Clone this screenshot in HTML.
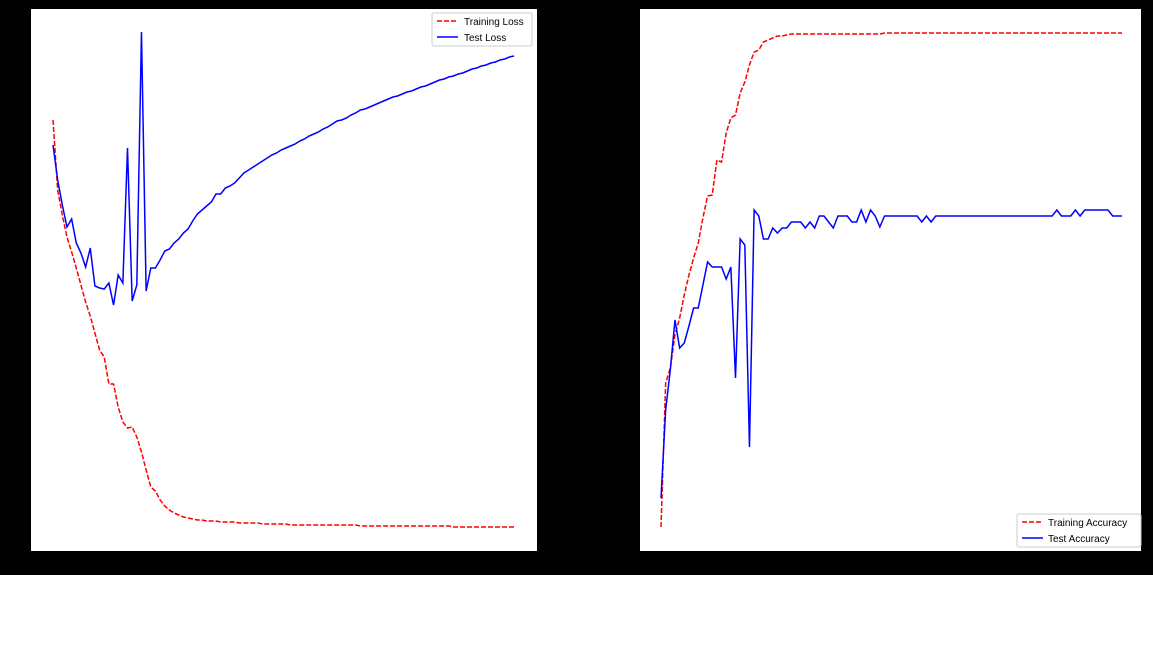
<!DOCTYPE html>
<html><head><meta charset="utf-8"><style>
html,body{margin:0;padding:0;background:#fff;}
svg{display:block;font-family:"Liberation Sans",sans-serif;}
</style></head><body>
<svg id="fig" width="1153" height="648">
<rect x="0" y="0" width="1153" height="575" fill="#000"/>
<rect x="31" y="9" width="506" height="542" fill="#fff"/>
<rect x="640" y="9" width="501" height="542" fill="#fff"/>
<g id="left"></g>
<g id="right"></g>
<g>
<rect x="432" y="13" width="100" height="33" fill="#fff" stroke="#ccc" rx="2"/>
<line x1="437" y1="21" x2="458" y2="21" stroke="red" stroke-width="1.5" stroke-dasharray="5,2"/>
<text x="464" y="25" font-size="10">Training Loss</text>
<line x1="437" y1="37" x2="458" y2="37" stroke="blue" stroke-width="1.5"/>
<text x="464" y="41" font-size="10">Test Loss</text>
</g>
<g>
<rect x="1017" y="514" width="124" height="33" fill="#fff" stroke="#ccc" rx="2"/>
<line x1="1022" y1="522" x2="1043" y2="522" stroke="red" stroke-width="1.5" stroke-dasharray="5,2"/>
<text x="1048" y="526" font-size="10">Training Accuracy</text>
<line x1="1022" y1="538" x2="1043" y2="538" stroke="blue" stroke-width="1.5"/>
<text x="1048" y="542" font-size="10">Test Accuracy</text>
</g>
</svg>
<script>
const epochs = Array.from({length:100},(_,i)=>i+1);
const testLoss = [4.06,3.71,3.46,3.24,3.32,3.08,2.98,2.84,3.03,2.65,2.63,2.62,2.68,2.46,2.76,2.68,4.03,2.50,2.66,5.19,2.60,2.83,2.83,2.91,3.00,3.02,3.08,3.12,3.18,3.22,3.30,3.37,3.41,3.45,3.49,3.57,3.57,3.63,3.65,3.68,3.73,3.78,3.81,3.84,3.87,3.90,3.93,3.96,3.98,4.01,4.03,4.05,4.07,4.10,4.12,4.15,4.17,4.19,4.22,4.24,4.27,4.30,4.31,4.33,4.36,4.38,4.41,4.42,4.44,4.46,4.48,4.50,4.52,4.54,4.55,4.57,4.59,4.60,4.62,4.64,4.65,4.67,4.69,4.71,4.72,4.74,4.75,4.77,4.78,4.80,4.82,4.83,4.85,4.86,4.88,4.89,4.91,4.92,4.94,4.95];
const trainLoss = [4.31,3.61,3.36,3.14,2.99,2.83,2.66,2.49,2.35,2.18,2.01,1.94,1.67,1.67,1.44,1.29,1.23,1.24,1.14,0.99,0.81,0.64,0.60,0.51,0.45,0.41,0.38,0.36,0.34,0.33,0.32,0.31,0.31,0.30,0.30,0.30,0.29,0.29,0.29,0.29,0.28,0.28,0.28,0.28,0.28,0.27,0.27,0.27,0.27,0.27,0.27,0.26,0.26,0.26,0.26,0.26,0.26,0.26,0.26,0.26,0.26,0.26,0.26,0.26,0.26,0.26,0.25,0.25,0.25,0.25,0.25,0.25,0.25,0.25,0.25,0.25,0.25,0.25,0.25,0.25,0.25,0.25,0.25,0.25,0.25,0.25,0.24,0.24,0.24,0.24,0.24,0.24,0.24,0.24,0.24,0.24,0.24,0.24,0.24,0.24];
const testAcc = [0.53,1.41,1.81,2.31,2.03,2.08,2.25,2.43,2.43,2.66,2.89,2.84,2.84,2.84,2.72,2.84,1.73,3.12,3.06,1.04,3.41,3.35,3.12,3.12,3.23,3.18,3.23,3.23,3.29,3.29,3.29,3.23,3.29,3.23,3.35,3.35,3.29,3.23,3.35,3.35,3.35,3.29,3.29,3.41,3.29,3.41,3.35,3.24,3.35,3.35,3.35,3.35,3.35,3.35,3.35,3.35,3.29,3.35,3.29,3.35,3.35,3.35,3.35,3.35,3.35,3.35,3.35,3.35,3.35,3.35,3.35,3.35,3.35,3.35,3.35,3.35,3.35,3.35,3.35,3.35,3.35,3.35,3.35,3.35,3.35,3.41,3.35,3.35,3.35,3.41,3.35,3.41,3.41,3.41,3.41,3.41,3.41,3.35,3.35,3.35];
const trainAcc = [0.24,1.68,1.83,2.16,2.33,2.56,2.76,2.93,3.08,3.33,3.55,3.56,3.91,3.89,4.18,4.33,4.36,4.58,4.69,4.86,4.99,5.01,5.09,5.11,5.13,5.15,5.15,5.16,5.17,5.17,5.17,5.17,5.17,5.17,5.17,5.17,5.17,5.17,5.17,5.17,5.17,5.17,5.17,5.17,5.17,5.17,5.17,5.17,5.18,5.18,5.18,5.18,5.18,5.18,5.18,5.18,5.18,5.18,5.18,5.18,5.18,5.18,5.18,5.18,5.18,5.18,5.18,5.18,5.18,5.18,5.18,5.18,5.18,5.18,5.18,5.18,5.18,5.18,5.18,5.18,5.18,5.18,5.18,5.18,5.18,5.18,5.18,5.18,5.18,5.18,5.18,5.18,5.18,5.18,5.18,5.18,5.18,5.18,5.18,5.18];

const NS="http://www.w3.org/2000/svg";
function xScaleL(e){return 53+(e-1)*(461/99);}
function xScaleR(e){return 661+(e-1)*(461/99);}
function yScale(v){return 551-v*100;}
function line(g,xs,vals,color,dash,name){
  const p=document.createElementNS(NS,'polyline');
  p.setAttribute('points',vals.map((v,i)=>xs(epochs[i]).toFixed(2)+','+yScale(v).toFixed(2)).join(' '));
  p.setAttribute('fill','none');p.setAttribute('stroke',color);p.setAttribute('stroke-width','1.5');
  if(dash)p.setAttribute('stroke-dasharray','5,2');
  
  
  g.appendChild(p);
}
const L=document.getElementById('left'),R=document.getElementById('right');
line(L,xScaleL,trainLoss,'red',true,'training-loss-line');
line(L,xScaleL,testLoss,'blue',false,'test-loss-line');
line(R,xScaleR,trainAcc,'red',true,'training-accuracy-line');
line(R,xScaleR,testAcc,'blue',false,'test-accuracy-line');
</script>
</body></html>
